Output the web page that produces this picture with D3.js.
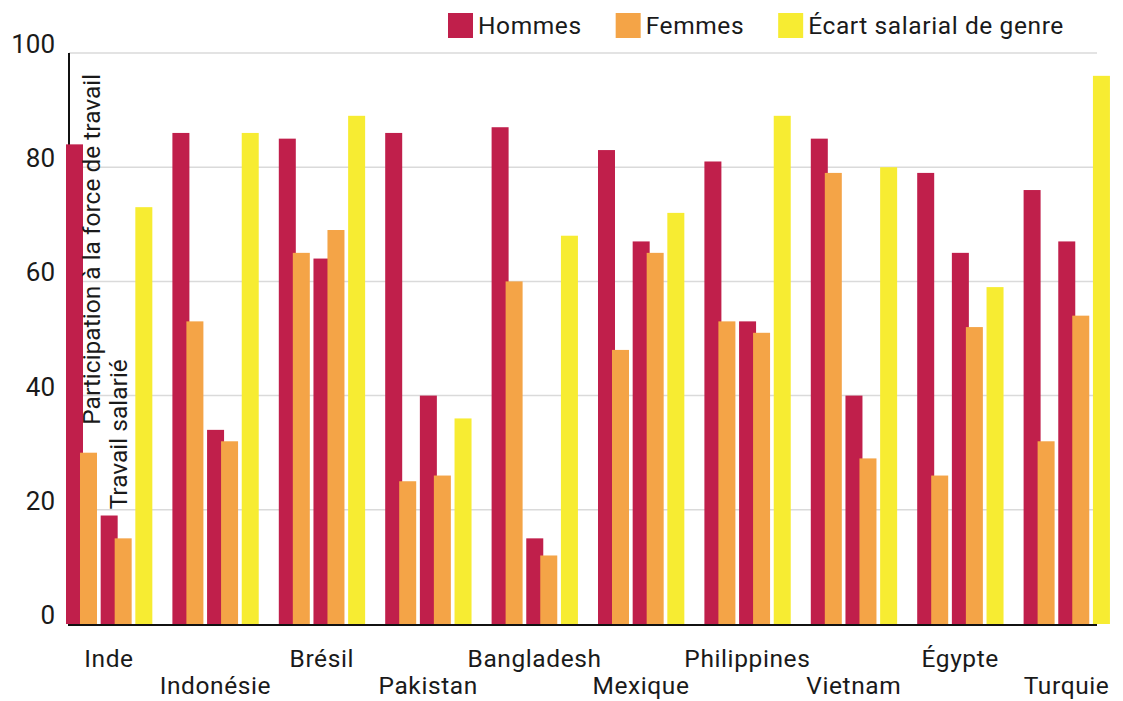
<!DOCTYPE html>
<meta charset="utf-8">
<style>
body { margin: 0; background: #fff; }
text { font-family: Roboto, "DejaVu Sans", sans-serif; fill: #1a1a1a; }
.grid line { stroke: #dadada; stroke-width: 1.5px; }
.lab { letter-spacing: 0.6px; }
</style>
<body>
<script src="https://d3js.org/d3.v7.min.js"></script>
<script>

// data (percent)
var countries = ["Inde", "Indonésie", "Brésil", "Pakistan", "Bangladesh",
                 "Mexique", "Philippines", "Vietnam", "Égypte", "Turquie"];
var hommesPart = [84, 86, 85, 86, 87, 83, 81, 85, 79, 76];
var femmesPart = [30, 53, 65, 25, 60, 48, 53, 79, 26, 32];
var hommesSal  = [19, 34, 64, 40, 15, 67, 53, 40, 65, 67];
var femmesSal  = [15, 32, 69, 26, 12, 65, 51, 29, 52, 54];
var ecart      = [73, 86, 89, 36, 68, 72, 89, 80, 59, 96];
var yTicks = [0, 20, 40, 60, 80, 100];
var legendLabels = ["Hommes", "Femmes", "Écart salarial de genre"];

var colors = {hommes: "#c01f4b", femmes: "#f4a447", ecart: "#f7ec32"};

var W = 1123, H = 701;
var x0 = 69, x1 = 1097;   // plot area (axis lines)

var svg = d3.select("body").append("svg")
    .attr("width", W)
    .attr("height", H);

// scales
var y = d3.scaleLinear().domain([0, 100]).range([624, 53]);

var x = d3.scaleBand()
    .domain(countries)
    .range([66, 1130])
    .padding(0);

var inner = d3.scaleBand()
    .domain(["part", "sal", "ecart"])
    .range([0, 104]);

var barW = 17, offFemme = 14;

// gridlines
svg.append("g")
    .attr("class", "grid")
  .selectAll("line")
  .data(yTicks.filter(function(d) { return d > 0; }))
  .enter().append("line")
    .attr("x1", x0)
    .attr("x2", x1)
    .attr("y1", function(d) { return y(d); })
    .attr("y2", function(d) { return y(d); });

// tick labels (sit on their gridline)
svg.append("g")
  .selectAll("text")
  .data(yTicks)
  .enter().append("text")
    .attr("x", 55)
    .attr("y", function(d) { return y(d); })
    .attr("text-anchor", "end")
    .style("font-size", "26px")
    .text(function(d) { return d; });

// vertical axis line
svg.append("line")
    .attr("x1", x0).attr("x2", x0)
    .attr("y1", y(100)).attr("y2", y(0))
    .attr("stroke", "#111")
    .attr("stroke-width", 2);

// one row per country
var rows = countries.map(function(c, i) {
  return {country: c, hp: hommesPart[i], fp: femmesPart[i],
          hs: hommesSal[i], fs: femmesSal[i], ec: ecart[i]};
});

var groups = svg.append("g")
  .selectAll("g")
  .data(rows)
  .enter().append("g")
    .attr("transform", function(d) { return "translate(" + x(d.country) + ",0)"; });

function bar(sel, key, val, dx, color) {
  sel.append("rect")
      .attr("x", inner(key) + dx)
      .attr("width", barW)
      .attr("y", function(d) { return y(d[val]); })
      .attr("height", function(d) { return y(0) - y(d[val]); })
      .attr("fill", color);
}

bar(groups, "part", "hp", 0, colors.hommes);
bar(groups, "part", "fp", offFemme, colors.femmes);
bar(groups, "sal", "hs", 0, colors.hommes);
bar(groups, "sal", "fs", offFemme, colors.femmes);
bar(groups, "ecart", "ec", 0, colors.ecart);

// baseline
svg.append("line")
    .attr("x1", x0 - 1).attr("x2", x1)
    .attr("y1", y(0) + 1).attr("y2", y(0) + 1)
    .attr("stroke", "#111")
    .attr("stroke-width", 2);

// country labels, staggered in two rows
svg.append("g")
  .selectAll("text")
  .data(countries)
  .enter().append("text")
    .attr("class", "lab")
    .attr("x", function(d) { return x(d) + 43; })
    .attr("y", function(d, i) { return i % 2 ? 694 : 667; })
    .attr("text-anchor", "middle")
    .style("font-size", "24.5px")
    .text(function(d) { return d; });

// rotated labels over the first group
var first = rows[0];
svg.append("text")
    .attr("transform", "translate(" + (x(first.country) + 34) + "," + (y(first.fp) - 28) + ") rotate(-90)")
    .style("font-size", "24.5px")
    .text("Participation à la force de travail");

svg.append("text")
    .attr("transform", "translate(" + (x(first.country) + 61) + "," + (y(first.fs) - 29) + ") rotate(-90)")
    .style("font-size", "24.5px")
    .text("Travail salarié");

// legend
var legColors = [colors.hommes, colors.femmes, colors.ecart];
var lx = 448;
legendLabels.forEach(function(lab, i) {
  svg.append("rect")
      .attr("x", lx).attr("y", 13)
      .attr("width", 25).attr("height", 25)
      .attr("fill", legColors[i]);
  var t = svg.append("text")
      .attr("class", "lab")
      .attr("x", lx + 30).attr("y", 34)
      .style("font-size", "24.5px")
      .text(lab);
  lx += 30 + t.node().getComputedTextLength() + 34;
});

</script>
</body>
